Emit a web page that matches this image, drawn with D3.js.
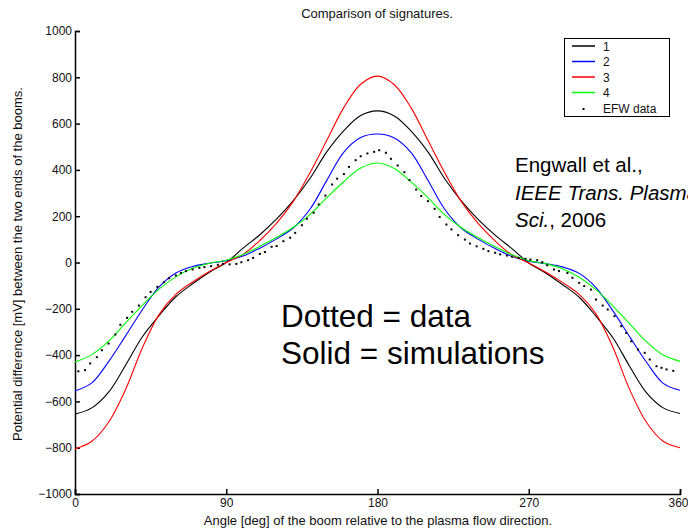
<!DOCTYPE html>
<html>
<head>
<meta charset="utf-8">
<script src="https://cdn.jsdelivr.net/npm/d3@7"></script>
<style>
  html, body { margin: 0; padding: 0; background: #fff; }
  svg { display: block; }
  text { font-family: "Liberation Sans", Arial, Helvetica, sans-serif; }
</style>
</head>
<body>
<script>
// ---- data ----
const angles = [0,10,20,30,40,50,60,70,80,90,100,110,120,130,140,150,160,170,180,
                190,200,210,220,230,240,250,260,270,280,290,300,310,320,330,340,350,360];
const sim1 = [-655,-628,-560,-445,-322,-230,-148,-92,-42,0,62,120,188,268,365,480,570,635,655,
              633,568,478,362,265,185,118,60,-2,-45,-95,-150,-232,-324,-448,-562,-628,-652];
const sim2 = [-555,-520,-428,-318,-205,-105,-45,-17,-3,8,28,62,102,150,232,357,477,540,555,
              538,475,355,230,148,100,60,26,6,-5,-19,-47,-108,-208,-320,-430,-522,-552];
const sim3 = [-805,-772,-690,-550,-370,-225,-138,-84,-39,0,35,95,170,265,390,530,670,770,805,
              768,668,528,388,262,168,93,33,-2,-41,-86,-138,-222,-365,-548,-690,-772,-800];
const sim4 = [-430,-398,-340,-262,-185,-115,-62,-25,-3,10,35,70,109,152,208,281,350,408,430,
              406,348,280,206,150,107,68,33,8,-5,-27,-64,-117,-187,-264,-342,-400,-427];
const efwAngles = [2,6,9,13,16,20,24,27,31,34,38,42,45,49,53,56,60,63,66,70,74,77,81,85,88,92,96,99,
                   103,106,110,113,117,120,124,128,131,135,138,142,145,149,153,156,160,163,167,170,174,178,
                   181,185,188,192,196,199,203,206,210,214,217,221,224,228,232,235,239,243,246,250,253,
                   257,260,264,268,271,275,278,281,285,288,293,296,300,303,307,310,314,317,321,325,328,
                   331,335,339,342,346,349,352,356];
const efwValues = [-470,-465,-436,-409,-379,-350,-311,-269,-239,-213,-186,-150,-127,-105,-85,-68,-56,-45,-37,-30,-23,-20,-16,-10,-6,-8,-6,1,
                   10,20,37,45,68,71,92,107,128,161,189,215,251,289,337,362,382,413,442,459,471,478,
                   485,474,448,419,390,356,315,287,265,232,197,164,143,118,99,82,70,59,49,42,35,
                   30,25,20,16,13,10,1,-12,-30,-37,-45,-66,-88,-102,-117,-160,-186,-203,-232,-275,-304,
                   -340,-376,-390,-419,-448,-455,-462,-468];
const xTicks = [0,90,180,270,360];
const yTicks = [-1000,-800,-600,-400,-200,0,200,400,600,800,1000];
const seriesNames = ["1","2","3","4"];
const seriesColors = ["#000000","#0000ff","#ff0000","#00ff00"];
const dataName = "EFW data";

// ---- chart ----
const W = 688, H = 532;
const svg = d3.select("body").append("svg").attr("width", W).attr("height", H);
svg.append("rect").attr("width", W).attr("height", H).attr("fill", "#fff");

const x = d3.scaleLinear().domain([0,360]).range([75,680]);
const y = d3.scaleLinear().domain([-1000,1000]).range([494,31]);

const fmt = d => d < 0 ? "\u2212" + Math.abs(d) : String(d);

const gx = svg.append("g").attr("transform", `translate(0,${y(-1000)})`)
  .call(d3.axisBottom(x).tickValues(xTicks).tickSize(-5).tickPadding(4).tickFormat(d => d));
const gy = svg.append("g").attr("transform", `translate(${x(0)},0)`)
  .call(d3.axisLeft(y).tickValues(yTicks).tickSize(-5).tickPadding(3).tickFormat(fmt));
[gx, gy].forEach(g => {
  g.select(".domain").attr("stroke", "#000").attr("stroke-width", 1.5);
  g.selectAll(".tick line").attr("stroke", "#000").attr("stroke-width", 1.5);
  g.selectAll(".tick text").attr("fill", "#111").style("font-size", "12px")
    .style("font-family", '"Liberation Sans", Arial, sans-serif');
});
gx.selectAll(".tick text").filter(d => d === 360).attr("dx", -2);

const sims = [sim1, sim2, sim3, sim4];
const line = d3.line().x(d => x(d[0])).y(d => y(d[1])).curve(d3.curveCatmullRom.alpha(0.5));
sims.forEach((s, i) => {
  svg.append("path")
    .datum(angles.map((a, j) => [a, s[j]]))
    .attr("d", line)
    .attr("fill", "none")
    .attr("stroke", seriesColors[i])
    .attr("stroke-width", 1.1);
});

svg.append("g").selectAll("rect")
  .data(efwAngles.map((a, j) => [a, efwValues[j]]))
  .join("rect")
  .attr("x", d => x(d[0]) - 1)
  .attr("y", d => y(d[1]) - 1)
  .attr("width", 2).attr("height", 2)
  .attr("fill", "#000");

// title and labels
svg.append("text").attr("x", 377).attr("y", 18).attr("text-anchor", "middle")
  .style("font-size", "13px").attr("fill", "#111").text("Comparison of signatures.");
svg.append("text").attr("x", 378).attr("y", 525).attr("text-anchor", "middle")
  .style("font-size", "13px").attr("fill", "#111")
  .text("Angle [deg] of the boom relative to the plasma flow direction.");
svg.append("text").attr("transform", "translate(22,264) rotate(-90)").attr("text-anchor", "middle")
  .style("font-size", "13px").attr("fill", "#111")
  .text("Potential difference [mV] between the two ends of the booms.");

// legend
const lg = svg.append("g");
lg.append("rect").attr("x", 564.5).attr("y", 38.5).attr("width", 105).attr("height", 78)
  .attr("fill", "#fff").attr("stroke", "#000").attr("stroke-width", 1);
const rowY = [46, 61.5, 77, 92.5, 108];
seriesNames.forEach((n, i) => {
  lg.append("line").attr("x1", 572).attr("x2", 595).attr("y1", rowY[i]).attr("y2", rowY[i])
    .attr("stroke", seriesColors[i]).attr("stroke-width", 1.5);
  lg.append("text").attr("x", 603).attr("y", rowY[i] + 4.5).style("font-size", "12px")
    .attr("fill", "#111").text(n);
});
lg.append("rect").attr("x", 582.5).attr("y", rowY[4]).attr("width", 2).attr("height", 2).attr("fill", "#000");
lg.append("text").attr("x", 603).attr("y", rowY[4] + 4.5).style("font-size", "12px")
  .attr("fill", "#111").text(dataName);

// annotations
const ann = svg.append("g").style("font-size", "20.5px").attr("fill", "#000");
ann.append("text").attr("x", 515).attr("y", 172).text("Engwall et al.,");
ann.append("text").attr("x", 515).attr("y", 200).style("font-style", "italic").text("IEEE Trans. Plasma");
const t3 = ann.append("text").attr("x", 515).attr("y", 227);
t3.append("tspan").style("font-style", "italic").text("Sci.");
t3.append("tspan").text(", 2006");

const ann2 = svg.append("g").style("font-size", "31.5px").attr("fill", "#000");
ann2.append("text").attr("x", 281).attr("y", 327).text("Dotted = data");
ann2.append("text").attr("x", 281).attr("y", 364).text("Solid = simulations");
</script>
</body>
</html>
